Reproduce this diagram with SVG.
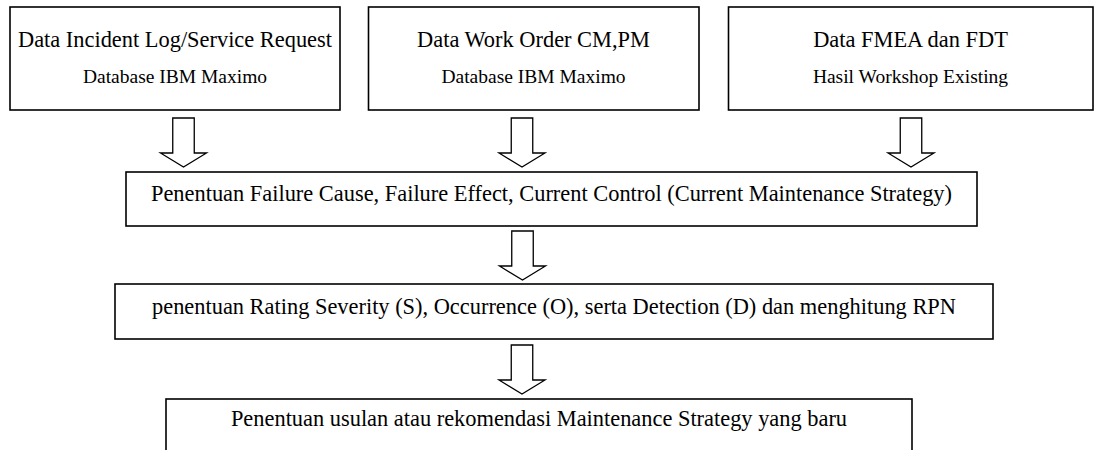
<svg xmlns="http://www.w3.org/2000/svg" xmlns:xlink="http://www.w3.org/1999/xlink" width="1095" height="450" viewBox="0 0 1095 450">
  <style>
    .box { fill: #ffffff; stroke: #000000; stroke-width: 1.6; }
    .arrow { fill: #ffffff; stroke: #000000; stroke-width: 1.3; stroke-linejoin: miter; }
    .t1 { font-family: "Liberation Serif", "Times New Roman", serif; font-size: 22.4px; fill: #000000; text-anchor: middle; }
    .t2 { font-family: "Liberation Serif", "Times New Roman", serif; font-size: 19.5px; fill: #000000; text-anchor: middle; }
  </style>
  <defs>
    <path id="blockArrow" class="arrow" d="M -10.75 0 L 10.75 0 L 10.75 35 L 23 35 L 0 49 L -23 35 L -10.75 35 Z"/>
  </defs>
  <rect width="1095" height="450" fill="#ffffff"/>

  <g id="node-incident">
    <rect class="box" x="10" y="7" width="330" height="103"/>
    <text class="t1" x="175" y="47">Data Incident Log/Service Request</text>
    <text class="t2" x="175" y="83">Database IBM Maximo</text>
  </g>

  <g id="node-workorder">
    <rect class="box" x="368.5" y="7" width="330.5" height="103"/>
    <text class="t1" x="533.5" y="47">Data Work Order CM,PM</text>
    <text class="t2" x="533.5" y="83">Database IBM Maximo</text>
  </g>

  <g id="node-fmea">
    <rect class="box" x="728.5" y="7" width="364.5" height="103"/>
    <text class="t1" x="910.5" y="47">Data FMEA dan FDT</text>
    <text class="t2" x="910.5" y="83">Hasil Workshop Existing</text>
  </g>

  <g id="node-failure">
    <rect class="box" x="126" y="172" width="851" height="54"/>
    <text class="t1" x="551.5" y="200.5">Penentuan Failure Cause, Failure Effect, Current Control (Current Maintenance Strategy)</text>
  </g>

  <g id="node-rating">
    <rect class="box" x="115" y="284" width="878" height="55"/>
    <text class="t1" x="554" y="314">penentuan Rating Severity (S), Occurrence (O), serta Detection (D) dan menghitung RPN</text>
  </g>

  <g id="node-recommendation">
    <rect class="box" x="166" y="399" width="746" height="70"/>
    <text class="t1" x="539" y="426">Penentuan usulan atau rekomendasi Maintenance Strategy yang baru</text>
  </g>

  <g id="connectors">
    <use xlink:href="#blockArrow" href="#blockArrow" transform="translate(183.5,118)"/>
    <use xlink:href="#blockArrow" href="#blockArrow" transform="translate(522,118)"/>
    <use xlink:href="#blockArrow" href="#blockArrow" transform="translate(911,118)"/>
    <use xlink:href="#blockArrow" href="#blockArrow" transform="translate(522.5,231)"/>
    <use xlink:href="#blockArrow" href="#blockArrow" transform="translate(522,345)"/>
  </g>
</svg>
